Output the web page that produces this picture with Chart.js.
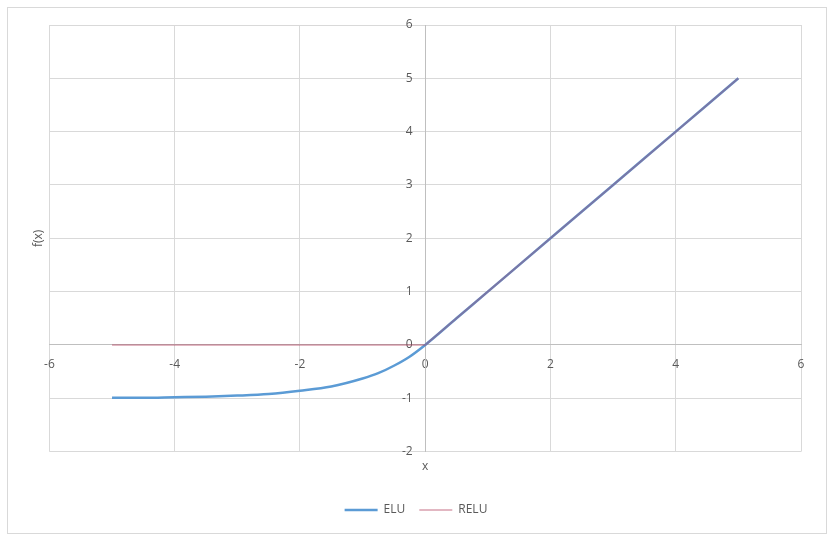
<!DOCTYPE html>
<html>
<head>
<meta charset="utf-8">
<script src="https://cdn.jsdelivr.net/npm/chart.js@4"></script>
<style>
  html, body { margin: 0; padding: 0; background: #fff; }
  #wrap { position: relative; width: 833px; height: 541px; }
</style>
</head>
<body>
<div id="wrap"><canvas id="eluChart" width="833" height="541"></canvas></div>
<script>
// x positions used for both curves
const xValues = [-5, -4.5, -4, -3.5, -3, -2.5, -2, -1.5, -1, -0.75, -0.5, -0.25, 0, 0.5, 1, 2, 3, 4, 5];
// ELU
const eluValues = [-0.99, -0.99, -0.98, -0.97, -0.95, -0.92, -0.86, -0.78, -0.63, -0.53, -0.39, -0.22, 0, 0.5, 1, 2, 3, 4, 5];
// RELU
const reluValues = [0, 0, 0, 0, 0, 0, 0, 0, 0, 0, 0, 0, 0, 0.5, 1, 2, 3, 4, 5];
const xTicks = [-6, -4, -2, 0, 2, 4, 6];
const yTicks = [-2, -1, 0, 1, 2, 3, 4, 5, 6];

const toPoints = (ys) => xValues.map((x, i) => ({ x: x, y: ys[i] }));

const tickFont = { family: "'Open Sans', 'Noto Sans', sans-serif", size: 12 };
const labelColor = '#595959';

// outer frame of the chart
const framePlugin = {
    id: 'frame',
    beforeDraw(chart) {
        const ctx = chart.ctx;
        ctx.save();
        ctx.fillStyle = '#fff';
        ctx.fillRect(0, 0, chart.width, chart.height);
        ctx.strokeStyle = '#d9d9d9';
        ctx.lineWidth = 1;
        ctx.strokeRect(7.5, 7.5, 819, 526);
        ctx.restore();
    }
};

const ctx = document.getElementById('eluChart').getContext('2d');
const chart = new Chart(ctx, {
    type: 'scatter',
    data: {
        datasets: [
            {
                label: 'ELU',
                data: toPoints(eluValues),
                showLine: true,
                borderColor: '#5b9bd5',
                backgroundColor: '#5b9bd5',
                borderWidth: 2.5,
                pointRadius: 0,
                cubicInterpolationMode: 'monotone',
                order: 1
            },
            {
                // semi-transparent so it turns purple over the ELU line
                label: 'RELU',
                data: toPoints(reluValues),
                showLine: true,
                borderColor: 'rgba(175, 55, 85, 0.36)',
                backgroundColor: 'rgba(175, 55, 85, 0.36)',
                borderWidth: 2,
                pointRadius: 0,
                tension: 0,
                order: 0
            }
        ]
    },
    options: {
        responsive: false,
        animation: false,
        layout: { padding: { top: 25, left: 31, right: 32, bottom: 15 } },
        plugins: {
            legend: {
                position: 'bottom',
                labels: {
                    usePointStyle: true,
                    pointStyle: 'line',
                    pointStyleWidth: 33,
                    boxHeight: 8,
                    padding: 14,
                    color: labelColor,
                    font: tickFont,
                    sort: (a, b) => a.datasetIndex - b.datasetIndex
                }
            },
            tooltip: { enabled: false }
        },
        scales: {
            x: {
                type: 'linear',
                min: -6,
                max: 6,
                position: { y: 0 },
                afterBuildTicks: (s) => { s.ticks = xTicks.map(v => ({ value: v })); },
                ticks: { color: labelColor, font: tickFont, padding: 12 },
                grid: { color: '#d9d9d9', drawTicks: false },
                border: { color: '#bfbfbf' }
            },
            y: {
                type: 'linear',
                min: -2,
                max: 6,
                position: { x: 0 },
                afterBuildTicks: (s) => { s.ticks = yTicks.map(v => ({ value: v })); },
                // trailing spaces keep the labels off the axis line
                ticks: { color: labelColor, font: tickFont, callback: (v) => v + '    ' },
                grid: { color: '#d9d9d9', drawTicks: false },
                border: { color: '#bfbfbf' }
            },
            xTitle: {
                type: 'linear',
                axis: 'x',
                position: 'bottom',
                ticks: { display: false },
                grid: { display: false, drawTicks: false },
                border: { display: false },
                title: { display: true, text: 'x', color: labelColor, font: tickFont, padding: { top: 8, bottom: 16 } }
            },
            yTitle: {
                type: 'linear',
                axis: 'y',
                position: 'left',
                ticks: { display: false },
                grid: { display: false, drawTicks: false },
                border: { display: false },
                title: { display: true, text: 'f(x)', color: labelColor, font: tickFont, padding: { top: 0, bottom: 4 } }
            }
        }
    },
    plugins: [framePlugin]
});
</script>
</body>
</html>
